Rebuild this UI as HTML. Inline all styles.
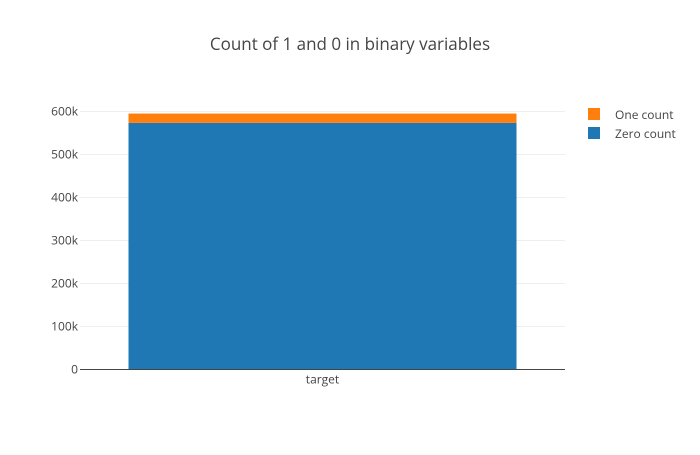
<!DOCTYPE html>
<html><head><meta charset="utf-8"><style>
body{margin:0;background:#fff;font-family:"Open Sans","Liberation Sans",sans-serif;}
svg text{font-family:"Open Sans","Liberation Sans",sans-serif;}
</style></head><body>
<svg id="chart" width="700" height="450">
<rect width="700" height="450" fill="#fff"/>
<text x="350" y="50" text-anchor="middle" font-size="17" fill="#444">Count of 1 and 0 in binary variables</text>
<g id="grid"></g><g id="bars"></g><g id="axes"></g>
<g>
<rect x="588" y="108" width="12" height="12" fill="#ff7f0e"/>
<text x="615" y="119" font-size="12" fill="#444">One count</text>
<rect x="588" y="127" width="12" height="12" fill="#1f77b4"/>
<text x="615" y="138" font-size="12" fill="#444">Zero count</text>
</g>
</svg>
<script>
const categories=["target"];
const zeroCounts=[573518];
const oneCounts=[21694];
const yTicks=[0,100000,200000,300000,400000,500000,600000];
const yTickLabels=["0","100k","200k","300k","400k","500k","600k"];
const L=80,R=565,T=111.5,B=369.5,ymax=600000;
const y=v=>B-(v/ymax)*(B-T);
const bw=(R-L)/categories.length;
const x=i=>L+bw*i;
const ns="http://www.w3.org/2000/svg";
function mk(t,a,p){const e=document.createElementNS(ns,t);for(const k in a)e.setAttribute(k,a[k]);document.getElementById(p).appendChild(e);return e;}
yTicks.forEach((v,i)=>{
 if(v>0){const g=mk('line',{x1:L,x2:R,y1:y(v),y2:y(v),stroke:'#eee','stroke-width':1},'grid');
 
 }
 const t=mk('text',{x:L-2,y:y(v)+4,'text-anchor':'end','font-size':12,fill:'#444'},'axes');
 t.textContent=yTickLabels[i];
 
 
});
categories.forEach((c,i)=>{
 const x0=x(i)+bw*0.1,w=bw*0.8;
 const z=mk('rect',{x:x0,y:y(zeroCounts[i]),width:w,height:B-y(zeroCounts[i]),fill:'#1f77b4'},'bars');
 
 
 const top=zeroCounts[i]+oneCounts[i];
 const o=mk('rect',{x:x0,y:y(top),width:w,height:y(zeroCounts[i])-y(top),fill:'#ff7f0e'},'bars');
 
 
 const t=mk('text',{x:x(i)+bw/2,y:B+14,'text-anchor':'middle','font-size':12,fill:'#444'},'axes');
 t.textContent=c;
 
 
});
const ax=mk('line',{x1:L,x2:R,y1:B,y2:B,stroke:'#444','stroke-width':1},'axes');


</script>
</body></html>
